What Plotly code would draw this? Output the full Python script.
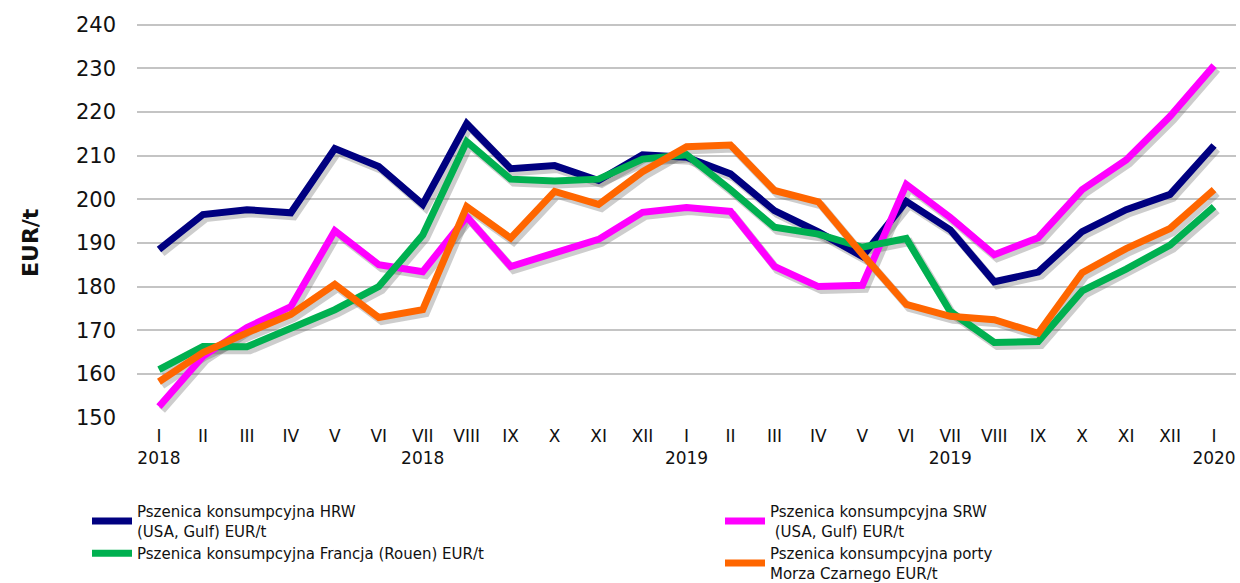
import plotly.graph_objects as go

months = ["I", "II", "III", "IV", "V", "VI", "VII", "VIII", "IX", "X", "XI", "XII",
          "I", "II", "III", "IV", "V", "VI", "VII", "VIII", "IX", "X", "XI", "XII", "I"]
years = [2018] * 12 + [2019] * 12 + [2020]
categories = [f"{m} {y}" for m, y in zip(months, years)]
year_label_at = {0: "2018", 6: "2018", 12: "2019", 18: "2019", 24: "2020"}
tick_text = [m + ("<br>" + year_label_at[i] if i in year_label_at else "<br> ")
             for i, m in enumerate(months)]
y_ticks = [150, 160, 170, 180, 190, 200, 210, 220, 230, 240]

hrw = [188.5, 196.5, 197.6, 196.9, 211.6, 207.5, 198.8, 217.3, 207.0, 207.7, 204.3, 210.2,
       209.6, 205.8, 197.4, 192.5, 186.9, 199.5, 193.0, 181.1, 183.3, 192.6, 197.6, 201.1, 212.3]
srw = [152.5, 164.0, 170.6, 175.4, 192.8, 185.0, 183.4, 196.0, 184.6, 187.5, 190.8, 197.0,
       198.1, 197.2, 184.6, 180.0, 180.3, 203.4, 195.8, 187.3, 191.2, 202.2, 209.0, 219.0, 230.6]
francja = [161.0, 166.3, 166.2, 170.6, 174.7, 180.0, 191.8, 213.2, 204.6, 204.2, 204.6, 209.2,
           210.2, 202.2, 193.6, 192.0, 189.0, 191.0, 174.3, 167.2, 167.4, 179.0, 184.0, 189.5, 198.3]
porty = [158.2, 164.9, 169.4, 173.6, 180.5, 172.9, 174.7, 198.3, 191.1, 201.8, 198.8, 206.3,
         212.0, 212.4, 202.0, 199.4, 187.4, 175.9, 173.2, 172.4, 169.3, 183.2, 188.7, 193.3, 202.2]

series = [
    ("Pszenica konsumpcyjna HRW<br>(USA, Gulf) EUR/t", hrw, "#000080", "legend"),
    ("Pszenica konsumpcyjna SRW<br> (USA, Gulf) EUR/t", srw, "#FF00FF", "legend2"),
    ("Pszenica konsumpcyjna Francja (Rouen) EUR/t", francja, "#00B050", "legend"),
    ("Pszenica konsumpcyjna porty<br>Morza Czarnego EUR/t", porty, "#FF6600", "legend2"),
]

FONT = "DejaVu Sans"
W, H = 1240, 583
ML, MR, MT, MB = 137, 4, 20, 165
plot_w = W - ML - MR
plot_h = H - MT - MB
px_unit_target = 393 / 90.0          # 240 grid at y=25, 150 grid at y=418
y_lo = 150 - 0.1
y_hi = y_lo + plot_h / px_unit_target
px_per_cat = plot_w / len(categories)
px_per_unit = plot_h / (y_hi - y_lo)
sx, sy = 3.0, 3.5  # shadow offset in px

fig = go.Figure()

# shadows on base axes (shifted range)
for name, vals, color, lg in series:
    fig.add_trace(go.Scatter(x=categories, y=vals, mode="lines", showlegend=False,
                             hoverinfo="skip",
                             line=dict(color="rgba(90,90,90,0.30)", width=8),
                             xaxis="x", yaxis="y"))

for name, vals, color, lg in series:
    fig.add_trace(go.Scatter(x=categories, y=vals, mode="lines", name=name,
                             line=dict(color=color, width=7), legend=lg,
                             xaxis="x2", yaxis="y2"))

legend_common = dict(orientation="v", xanchor="left", yanchor="top",
                     xref="container", yref="container",
                     font=dict(family=FONT, size=15, color="#111111"),
                     itemwidth=40, tracegroupgap=0, bgcolor="rgba(0,0,0,0)",
                     borderwidth=0)

fig.update_layout(
    width=W, height=H,
    margin=dict(l=ML, r=MR, t=MT, b=MB, autoexpand=False),
    paper_bgcolor="white", plot_bgcolor="white",
    font=dict(family=FONT, color="#111111"),
    showlegend=True,
    xaxis=dict(type="category", categoryorder="array", categoryarray=categories,
               range=[-0.5 - sx / px_per_cat, len(categories) - 0.5 - sx / px_per_cat],
               visible=False, showgrid=False, automargin=False),
    yaxis=dict(range=[y_lo + sy / px_per_unit, y_hi + sy / px_per_unit],
               visible=False, showgrid=False, automargin=False),
    xaxis2=dict(type="category", categoryorder="array", categoryarray=categories,
                overlaying="x", side="bottom", anchor="y2", automargin=False,
                range=[-0.5, len(categories) - 0.5],
                tickmode="array", tickvals=categories, ticktext=tick_text,
                showgrid=False, showline=False, ticks="", ticklabelstandoff=6,
                tickangle=0, ticklabeloverflow="allow",
                tickfont=dict(family=FONT, size=17, color="#111111")),
    yaxis2=dict(overlaying="y", side="left", anchor="x2", automargin=False,
                range=[y_lo, y_hi], tickmode="array", tickvals=y_ticks,
                showgrid=True, gridcolor="#C4C4C4", gridwidth=2,
                zeroline=False, showline=False, ticks="", ticklabelstandoff=20,
                tickfont=dict(family=FONT, size=21, color="#111111")),
    legend=dict(legend_common, x=87 / W, y=1 - 495 / H),
    legend2=dict(legend_common, x=720 / W, y=1 - 495 / H),
    annotations=[dict(text="<b>EUR/t</b>", textangle=-90, xref="paper", yref="paper",
                      x=-(ML - 30) / plot_w, y=(H - MB - 243) / plot_h,
                      xanchor="center", yanchor="middle", showarrow=False,
                      font=dict(family=FONT, size=22, color="#111111"))],
)

fig.write_html("out.html", config={"displayModeBar": False},
               post_script="document.body.style.margin='0px';")
